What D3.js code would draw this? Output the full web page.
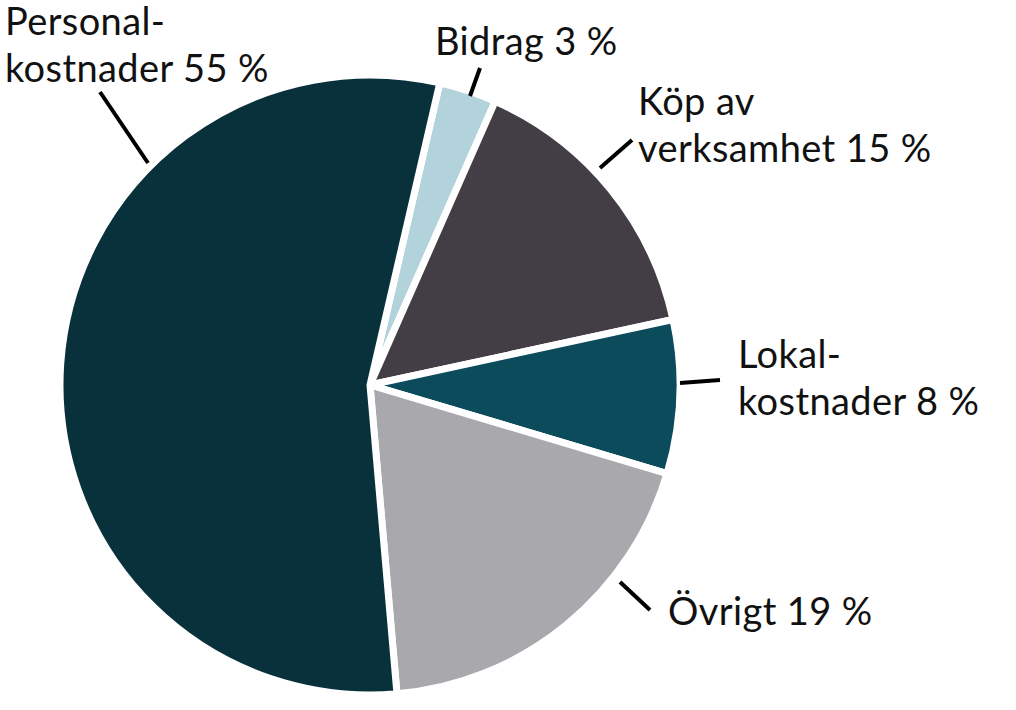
<!DOCTYPE html>
<html><head><meta charset="utf-8">
<script src="https://cdn.jsdelivr.net/npm/d3@7"></script>
<style>body{margin:0;background:#fff}</style>
</head><body>
<svg id="chart" width="1016" height="710"></svg>
<script>
var labels = [["Bidrag 3 %"], ["Köp av", "verksamhet 15 %"], ["Lokal-", "kostnader 8 %"], ["Övrigt 19 %"], ["Personal-", "kostnader 55 %"]];
var values = [3, 15, 8, 19, 55];
var colors = ["#b3d3dc", "#433e45", "#0b4b5c", "#a9a8ac", "#08313c"];
// label anchor (x, first baseline) and leader line ends
var labelPos = [[435, 55], [638, 115], [738, 368], [668, 625], [5, 35]];
var leaders = [[[480, 68], [470, 96]], [[632, 140], [600, 168]], [[680, 383], [720, 380]], [[620, 582], [650, 610]], [[100, 92], [148, 163]]];

var svg = d3.select("#chart");
var cx = 370, cy = 385, r = 310;

var pie = d3.pie().sort(null).startAngle(0.227).endAngle(0.227 + 2 * Math.PI);
var arc = d3.arc().innerRadius(0).outerRadius(r);

svg.append("g")
    .attr("transform", `translate(${cx}, ${cy})`)
    .selectAll("path")
    .data(pie(values))
    .enter().append("path")
    .attr("d", arc)
    .attr("fill", (d, i) => colors[i])
    .attr("stroke", "#fff")
    .attr("stroke-width", 7)
    .attr("stroke-linejoin", "round");

svg.selectAll("line.leader")
    .data(leaders)
    .enter().append("line")
    .attr("class", "leader")
    .attr("x1", d => d[0][0]).attr("y1", d => d[0][1])
    .attr("x2", d => d[1][0]).attr("y2", d => d[1][1])
    .attr("stroke", "#000")
    .attr("stroke-width", 4);

labels.forEach((lines, i) => {
    var t = svg.append("text")
        .attr("x", labelPos[i][0])
        .attr("y", labelPos[i][1])
        .attr("font-family", "Lato, 'Noto Sans', sans-serif")
        .attr("font-size", 38)
        .attr("letter-spacing", 0.4)
        .attr("fill", "#111");
    lines.forEach((s, j) => {
        t.append("tspan").attr("x", labelPos[i][0]).attr("dy", j ? 47 : 0).text(s);
    });
});
</script>
</body></html>
